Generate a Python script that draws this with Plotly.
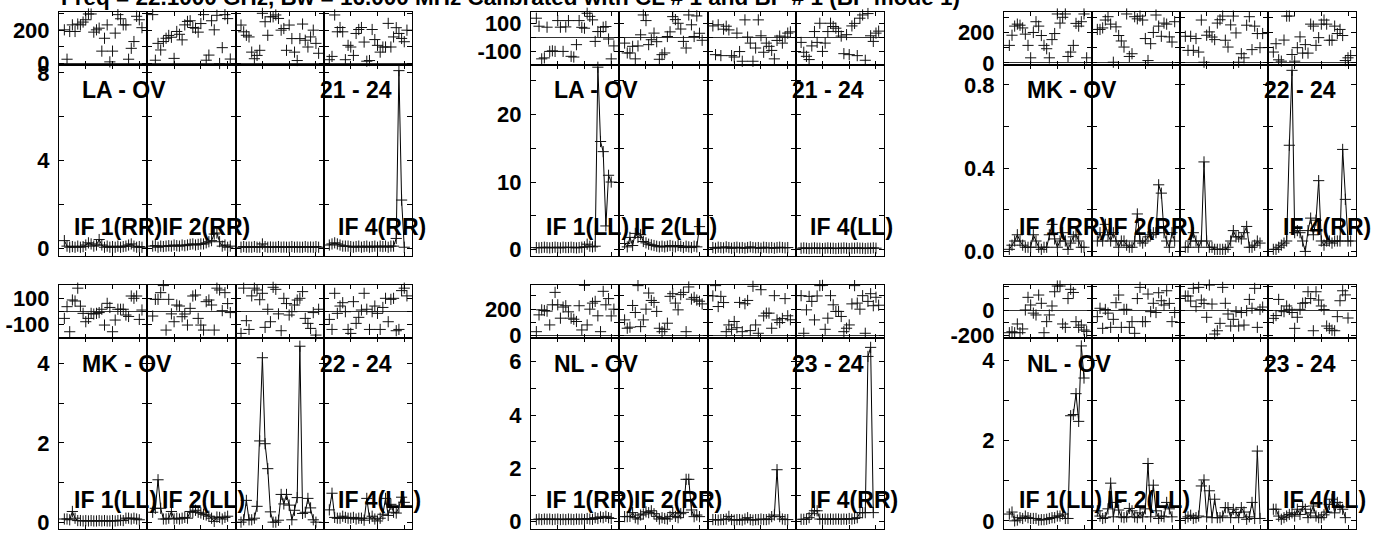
import plotly.graph_objects as go

# Kanaler (felles for alle IF)
channels = list(range(2, 32))

baselines = ["LA - OV", "LA - OV", "MK - OV", "MK - OV", "NL - OV", "NL - OV"]
antennas = ["21 - 24", "21 - 24", "22 - 24", "22 - 24", "23 - 24", "23 - 24"]
stokes = ["RR", "LL", "RR", "LL", "RR", "LL"]
if_labels = ["IF 1", "IF 2", "", "IF 4"]

title_text = "Freq = 22.1000 GHz, Bw = 16.000 MHz Calibrated with CL # 1 and BP # 1 (BP mode 1)"

# ---- LA - OV  RR ----
la_rr_phase = [
    [202, 24, 192, 232, 192, 237, 232, 249, 263, 298, 298, 188, 202, 212, 73, 151, 232, 8, 73, 182, 294, 269, 232, 232, 24, 90, 131, 284, 263, 215],
    [294, 18, 120, 80, 131, 151, 168, 157, 29, 192, 175, 141, 232, 253, 257, 216, 212, 188, 240, 294, 18, 49, 257, 202, 290, -2, 94, 294, 270, 25],
    [231, 190, 169, 159, 67, 27, 47, 78, 302, 251, 169, 281, 281, 292, 271, 200, 210, 78, 231, 149, 67, 16, 149, 237, 139, 98, 159, 200, 120, 60],
    [21, 41, 292, 190, 216, 190, 21, 108, 98, 47, 180, 204, 216, 128, 12, 16, 204, 143, 108, 67, 98, 98, 241, 98, 159, 215, 180, 150, 130, 200],
]
la_rr_amp = [
    [0.35, 0.1, 0.05, 0.08, 0.05, 0.1, 0.05, 0.08, 0.15, 0.25, 0.2, 0.1, 0.15, 0.4, 0.15, 0.05, 0.1, 0.05, 0.08, 0.05, 0.1, 0.05, 0.08, 0.1, 0.15, 0.2, 0.1, 0.05, 0.08, 0.05],
    [0.1, 0.12, 0.05, 0.1, 0.08, 0.1, 0.12, 0.1, 0.15, 0.12, 0.1, 0.15, 0.12, 0.15, 0.18, 0.2, 0.15, 0.18, 0.2, 0.2, 0.25, 0.3, 0.35, 0.65, 0.7, 0.3, 0.1, 0.15, 0.05, 0.1],
    [0.05, 0.08, 0.05, 0.06, 0.05, 0.08, 0.05, 0.05, 0.2, 0.08, 0.05, 0.06, 0.05, 0.05, 0.08, 0.05, 0.06, 0.05, 0.05, 0.08, 0.05, 0.06, 0.05, 0.05, 0.08, 0.05, 0.06, 0.05, 0.08, 0.05],
    [0.15, 0.2, 0.25, 0.2, 0.15, 0.1, 0.1, 0.1, 0.08, 0.05, 0.08, 0.1, 0.05, 0.08, 0.1, 0.05, 0.08, 0.1, 0.05, 0.1, 0.08, 0.1, 0.05, 0.1, 0.1, 0.45, 8.1, 2.2, 0.05],
]

# ---- LA - OV  LL ----
la_ll_phase = [
    [137, 80, -152, -145, 73, -99, -95, -99, 120, 73, -99, 75, 120, -134, -139, -51, 120, 72, 66, 172, 150, 125, -28, 42, 42, 73, 78, -11, -152, -60],
    [-40, -110, -110, -63, -152, -60, 19, 160, 120, -51, -16, 31, -30, -155, -122, -110, 7, 40, 148, 127, 101, 60, -28, -75, 160, 90, 7, 153, 30, -20],
    [82, -122, 90, -129, 59, 80, 54, -129, -139, 31, -100, -169, 125, 3, -40, -169, -75, 125, 12, -105, -40, -63, -92, -152, -21, 10, -40, 3, 31, 40],
    [-35, -105, -134, -157, -60, 42, -35, 101, -99, -40, 42, 101, 78, 66, 42, 10, -115, 20, -122, 82, 100, -129, 137, 160, -162, 170, 12, -28, 31, 45],
]
la_ll_amp = [
    [0.3, 0.25, 0.3, 0.35, 0.3, 0.25, 0.3, 0.35, 0.3, 0.25, 0.35, 0.3, 0.3, 0.35, 0.3, 0.25, 0.3, 0.35, 0.4, 0.8, 0.5, 0.4, 0.5, 27, 16, 14.5, 3.5, 11, 10],
    [0.9, 0.4, 1.8, 0.6, 2.4, 1.8, 2.2, 1.2, 1.0, 0.8, 0.7, 0.6, 0.5, 0.4, 0.5, 0.4, 0.5, 0.6, 0.5, 0.4, 0.6, 0.5, 0.3, 0.5, 0.4, 0.3, 0.5, 0.4, 3.4],
    [0.3, 0.2, 0.35, 0.3, 0.25, 0.4, 0.3, 0.2, 0.3, 0.35, 0.25, 0.3, 0.2, 0.3, 0.4, 0.3, 0.25, 0.3, 0.2, 0.35, 0.3, 0.25, 0.3, 0.2, 0.3, 0.35, 0.3, 0.25, 0.3],
    [0.2, 0.25, 0.2, 0.15, 0.2, 0.25, 0.2, 0.2, 0.15, 0.2, 0.25, 0.2, 0.2, 0.15, 0.2, 0.2, 0.25, 0.2, 0.15, 0.2, 0.2, 0.25, 0.2, 0.2, 0.15, 0.2, 0.2, 0.25, 0.2],
]

# ---- MK - OV  RR ----
mk_rr_phase = [
    [115, 182, 242, 255, 248, 230, 189, 115, 33, 200, 271, 242, 180, 115, 93, 33, 153, 193, 322, 262, 300, 322, 42, 71, 115, 260, 242, 271, 322, 33],
    [220, 220, 230, 282, 304, 255, 4, 237, 180, 144, 104, 322, 42, 60, 304, 290, 308, 282, 160, 15, 126, 200, 315, 242, 175, 262, 255, 171, 137, 271],
    [175, 82, 175, 82, 160, 71, 282, 4, 182, 204, 170, 153, 262, 284, 308, 149, 104, 250, 308, 197, 4, 60, 33, 248, 304, 87, 242, 193, 100, 193],
    [71, 126, 20, 11, 150, 308, 308, 55, 11, 100, 171, 64, 120, 64, 255, 242, 115, 166, 255, 282, 255, 149, 149, 242, 193, 220, 180, 15, 33, 48],
]
mk_rr_amp = [
    [0.01, 0.03, 0.05, 0.08, 0.05, 0.03, 0.02, 0.02, 0.02, 0.08, 0.05, 0.02, 0.01, 0.02, 0.02, 0.08, 0.13, 0.06, 0.02, 0.05, 0.09, 0.05, 0.01, 0.04, 0.07, 0.08, 0.05, 0.02, 0.02],
    [0.05, 0.09, 0.05, 0.13, 0.08, 0.05, 0.09, 0.05, 0.02, 0.05, 0.05, 0.03, 0.02, 0.02, 0.05, 0.18, 0.05, 0.04, 0.05, 0.07, 0.08, 0.09, 0.09, 0.32, 0.28, 0.09, 0.05, 0.02, 0.09, 0.05],
    [0.02, 0.02, 0.05, 0.09, 0.05, 0.02, 0.05, 0.43, 0.05, 0.02, 0.02, 0.01, 0.01, 0.01, 0.01, 0.01, 0.02, 0.05, 0.1, 0.07, 0.07, 0.06, 0.09, 0.12, 0.02, 0.02, 0.03, 0.05, 0.04],
    [0.01, 0.01, 0.02, 0.03, 0.04, 0.05, 0.51, 0.87, 0.09, 0.1, 0.09, 0.05, 0.0, 0.1, 0.16, 0.08, 0.15, 0.34, 0.05, 0.03, 0.05, 0.05, 0.04, 0.05, 0.05, 0.05, 0.49, 0.25, 0.05, 0.05],
]

# ---- MK - OV  LL ----
mk_ll_phase = [
    [-55, 36, -159, 88, 80, 180, 40, -16, -81, -55, -16, -21, -16, -10, 16, -107, 62, 30, -159, -68, 16, 16, 16, -29, -40, 119, 101, 119, -63, 10],
    [-37, 93, 93, 145, 200, -146, 93, -20, -81, 49, 41, -42, -21, -107, 23, 119, 127, -55, -107, -146, 75, 88, 49, -146, 180, 166, 5, 145, 60, -10],
    [-172, 180, -73, -141, 120, 180, 166, 90, 140, -125, 16, -81, 187, 171, -20, -151, 101, 60, -29, -3, 49, 88, 101, 153, -55, -94, -133, -10, -185, 16],
    [-63, -141, 140, -16, 41, 67, -3, -141, -172, 75, -94, -47, 10, 140, 16, -141, -3, 41, -16, -141, 30, 101, -81, 93, 101, -151, -141, 161, 180, 120],
]
mk_ll_amp = [
    [0.08, 0.08, 0.06, 0.27, 0.1, 0.04, 0.04, 0.03, 0.04, 0.03, 0.04, 0.03, 0.03, 0.04, 0.03, 0.04, 0.03, 0.03, 0.04, 0.03, 0.04, 0.05, 0.04, 0.1, 0.1, 0.08, 0.1, 0.08, 0.06],
    [0.25, 0.35, 1.07, 0.35, 0.08, 0.08, 0.1, 0.27, 0.08, 0.1, 0.08, 0.1, 0.12, 0.1, 0.27, 0.25, 0.3, 0.25, 0.23, 0.2, 0.18, 0.15, 0.1, 0.02, 0.13, 0.12, 0.08, 0.12, 0.15],
    [0.0, 0.06, 0.55, 0.06, 0.06, 0.1, 0.4, 2.05, 4.15, 1.98, 1.35, 0.26, 0.0, 0.0, 0.05, 0.7, 0.46, 0.7, 0.43, 0.06, 0.3, 0.62, 4.44, 0.22, 0.25, 0.6, 0.36, 0.06, 0.0],
    [0.31, 0.73, 0.12, 0.1, 0.1, 0.15, 0.12, 0.1, 0.1, 0.12, 0.08, 0.1, 0.1, 0.05, 0.6, 0.1, 0.15, 0.08, 0.03, 0.1, 0.2, 0.6, 0.17, 0.45, 0.25, 0.23, 0.38, 0.63, 0.5],
]

# ---- NL - OV  RR ----
nl_rr_phase = [
    [30, 157, 195, 190, 185, 81, 233, 327, 233, 132, 216, 226, 180, 132, 124, 107, 226, 43, 380, 81, 200, 246, 259, 150, 30, 335, 233, 280, 149, 200],
    [119, 56, 64, 228, 175, 378, 68, 119, 200, 322, 266, 251, 183, 56, 30, 48, 94, 297, 317, 246, 195, 310, 327, 30, 368, 276, 289, 269, 260, 240],
    [300, 378, 220, 297, 250, 30, 81, 48, 107, 60, 251, 30, 241, 266, 38, 373, 81, 18, 347, 149, 170, 170, 56, 302, 119, 99, 130, 280, 150, 120],
    [302, 18, 195, 297, 259, 119, 300, 378, 380, 48, 132, 302, 233, 183, 183, 145, 30, 56, 81, 240, 378, 246, 200, 302, 18, 259, 317, 226, 290, 230],
]
nl_rr_amp = [
    [0.08, 0.1, 0.08, 0.1, 0.09, 0.1, 0.08, 0.09, 0.1, 0.08, 0.09, 0.08, 0.1, 0.09, 0.08, 0.1, 0.09, 0.1, 0.08, 0.12, 0.1, 0.09, 0.15, 0.12, 0.18, 0.15, 0.2, 0.15, 0.12],
    [0.19, 0.19, 0.2, 0.34, 0.15, 0.1, 0.25, 0.29, 0.37, 0.34, 0.41, 0.3, 0.2, 0.1, 0.15, 0.12, 0.1, 0.2, 0.34, 0.2, 0.15, 0.3, 0.35, 1.59, 1.59, 0.44, 0.19, 0.25, 0.19],
    [0.08, 0.08, 0.06, 0.08, 0.08, 0.1, 0.2, 0.08, 0.06, 0.08, 0.08, 0.06, 0.1, 0.15, 0.08, 0.06, 0.08, 0.08, 0.1, 0.08, 0.08, 0.1, 0.19, 0.25, 1.95, 0.19, 0.1, 0.08, 0.08],
    [0.09, 0.09, 0.09, 0.15, 0.3, 0.41, 0.41, 0.1, 0.09, 0.1, 0.09, 0.1, 0.09, 0.1, 0.1, 0.09, 0.1, 0.09, 0.12, 0.1, 0.12, 0.15, 0.34, 0.34, 0.34, 6.2, 6.54, 0.34],
]

# ---- NL - OV  LL ----
nl_ll_phase = [
    [-181, -173, -181, -109, -181, -150, 6, 110, 47, -20, -35, 129, 61, -181, -90, -35, 39, 156, 203, 203, -109, -137, 100, 176, 150, -90, -137, -118, -159, -170],
    [-49, 20, -145, 10, -20, -137, -71, 66, 129, -137, 11, 11, -137, -90, -186, 100, 192, -90, -90, 137, -8, 61, -15, 148, 82, 47, 164, 60, -90, -15],
    [121, 121, 80, 184, 33, 192, 88, 60, -54, 211, 55, -192, -165, -104, 192, 61, -27, -126, -71, -8, -126, -15, -118, 0, 93, 20, 184, -137, 10, 30],
    [-63, -40, 93, 0, -8, 39, 11, -15, -145, -54, 11, 61, 66, 156, 100, -165, 156, 88, 39, 10, -126, -145, -160, -165, -49, 82, 164, 130, -60],
]
nl_ll_amp = [
    [0.17, 0.22, 0.0, 0.02, 0.08, 0.06, 0.12, 0.08, 0.06, 0.06, 0.06, 0.02, 0.03, 0.03, 0.04, 0.06, 0.08, 0.08, 0.12, 0.12, 0.17, 0.06, 0.06, 2.62, 2.65, 3.17, 2.48, 4.36, 3.56],
    [0.25, 0.12, 0.06, 0.08, 0.3, 0.94, 0.1, 0.46, 0.27, 0.1, 0.08, 0.1, 0.31, 0.25, 0.1, 0.08, 0.2, 0.1, 0.3, 1.43, 0.1, 0.89, 0.25, 0.06, 0.12, 0.1, 0.46, 0.3, 0.1],
    [0.06, 0.1, 0.14, 0.06, 0.08, 0.12, 0.87, 1.02, 0.1, 0.75, 0.08, 0.54, 0.08, 0.08, 0.12, 0.33, 0.33, 0.08, 0.29, 0.21, 0.08, 0.33, 0.22, 0.04, 0.1, 0.46, 0.06, 1.74, 0.06],
    [0.29, 0.29, 0.12, 0.04, 0.08, 0.12, 0.16, 0.2, 0.12, 0.29, 0.16, 0.36, 0.29, 0.08, 0.2, 0.37, 0.12, 0.08, 0.08, 0.15, 0.22, 0.41, 0.54, 0.2, 0.46, 0.35, 0.29, 0.08],
]

phases = [la_rr_phase, la_ll_phase, mk_rr_phase, mk_ll_phase, nl_rr_phase, nl_ll_phase]
amps = [la_rr_amp, la_ll_amp, mk_rr_amp, mk_ll_amp, nl_rr_amp, nl_ll_amp]

# Akser per panel
phase_ranges = [(-8, 310), (-192, 181), (-11, 335), (-210, 207), (-20, 385), (-227, 214)]
phase_ticks = [[0, 100, 200, 300], [-100, 0, 100], [0, 100, 200, 300],
               [-200, -100, 0, 100, 200], [0, 100, 200, 300], [-200, -100, 0, 100, 200]]
phase_labels = [[0, 200], [-100, 100], [0, 200], [-100, 100], [0, 200], [-200, 0]]
amp_ranges = [(-0.35, 8.38), (-0.95, 27.4), (-0.022, 0.898), (-0.18, 4.64), (-0.285, 6.88), (-0.21, 4.55)]
amp_ticks = [[0, 2, 4, 6, 8], [0, 5, 10, 15, 20, 25], [0, 0.2, 0.4, 0.6, 0.8],
             [0, 1, 2, 3, 4], [0, 1, 2, 3, 4, 5, 6], [0, 1, 2, 3, 4]]
amp_labels = [["0", "", "4", "", "8"], ["0", "", "10", "", "20", ""], ["0.0", "", "0.4", "", "0.8"],
              ["0", "", "2", "", "4"], ["0", "", "2", "", "4", "", "6"], ["0", "", "2", "", "4"]]

# Layout i piksler
W, H = 1391, 534
panel_x = [(59, 412.3), (531, 884), (1004, 1356)]
panel_y = [(12, 64.5, 256), (284.7, 338.3, 529.3)]

FONT = "Liberation Sans, Arial, sans-serif"
BLACK = "#000000"

fig = go.Figure()
layout = {}
annotations = []


def ax_name(n, kind):
    return kind if n == 1 else f"{kind}{n}"


for p in range(6):
    row, col = divmod(p, 3)
    left, right = panel_x[col]
    top, mid, bottom = panel_y[row]
    w_if = (right - left) / 4
    for i in range(4):
        x0, x1 = left + i * w_if, left + (i + 1) * w_if
        for k in range(2):  # 0 = fase, 1 = amplitude
            n = p * 8 + i * 2 + k + 1
            if k == 0:
                yt, yb = top, mid
                vals = phases[p][i]
                tv = phase_ticks[p]
                tt = [str(v) if v in phase_labels[p] else "" for v in tv]
                yr = phase_ranges[p]
            else:
                yt, yb = mid, bottom
                vals = amps[p][i]
                tv = amp_ticks[p]
                tt = amp_labels[p]
                yr = amp_ranges[p]

            fig.add_trace(go.Scatter(
                x=channels[:len(vals)], y=vals,
                mode="markers" if k == 0 else "lines+markers",
                line=dict(color=BLACK, width=1),
                marker=dict(symbol="cross-thin", size=8, line=dict(width=1, color="#111111")),
                xaxis=ax_name(n, "x"), yaxis=ax_name(n, "y"),
                cliponaxis=False, showlegend=False, hoverinfo="skip",
            ))

            layout[ax_name(n, "xaxis")] = dict(
                domain=[x0 / W, x1 / W], range=[0, 33], anchor=ax_name(n, "y"),
                showline=True, linecolor=BLACK, linewidth=1, mirror="ticks",
                ticks="inside", ticklen=4, tickcolor=BLACK, tickvals=[10, 20, 30],
                showticklabels=False, showgrid=False, zeroline=False, fixedrange=True,
                automargin=False,
            )
            layout[ax_name(n, "yaxis")] = dict(
                domain=[1 - yb / H, 1 - yt / H], range=list(yr), anchor=ax_name(n, "x"),
                showline=True, linecolor=BLACK, linewidth=1, mirror="ticks",
                ticks="inside", ticklen=5, tickcolor=BLACK,
                tickvals=tv, ticktext=tt, showticklabels=(i == 0),
                tickfont=dict(family=FONT, size=22, color=BLACK, weight="bold"),
                ticklabelstandoff=4, ticklabeloverflow="allow",
                showgrid=False, zeroline=(k == 0), zerolinecolor="#333333", zerolinewidth=1,
                fixedrange=True, automargin=False,
            )

        # IF-etiketter (IF 3 mangler i originalen)
        if if_labels[i]:
            annotations.append(dict(
                text=f"{if_labels[i]}({stokes[p]})", x=(x0 + 12.5) / W, y=1 - (bottom - 29.5) / H,
                xref="paper", yref="paper", xanchor="left", yanchor="middle", showarrow=False,
                font=dict(family=FONT, size=23, color=BLACK, weight="bold"),
            ))

    annotations.append(dict(
        text=baselines[p], x=(left + 21) / W, y=1 - (mid + 25.5) / H,
        xref="paper", yref="paper", xanchor="left", yanchor="middle", showarrow=False,
        font=dict(family=FONT, size=23, color=BLACK, weight="bold"),
    ))
    annotations.append(dict(
        text=antennas[p], x=(right - 18) / W, y=1 - (mid + 25.5) / H,
        xref="paper", yref="paper", xanchor="right", yanchor="middle", showarrow=False,
        font=dict(family=FONT, size=23, color=BLACK, weight="bold"),
    ))

annotations.append(dict(
    text=title_text, x=59 / W, y=1 - 12.5 / H,
    xref="paper", yref="paper", xanchor="left", yanchor="bottom", showarrow=False,
    font=dict(family=FONT, size=22.5, color=BLACK, weight="bold"),
))

fig.update_layout(
    **layout,
    annotations=annotations,
    template="none",
    width=W, height=H,
    margin=dict(l=0, r=0, t=0, b=0, pad=0),
    paper_bgcolor="white", plot_bgcolor="white",
    showlegend=False,
)

# Fjern standardmargen i nettleseren slik at figuren starter i hjørnet
fig.write_html(
    "out.html",
    config={"displayModeBar": False, "staticPlot": True},
    post_script="document.body.style.margin='0';document.body.style.overflow='hidden';",
)
